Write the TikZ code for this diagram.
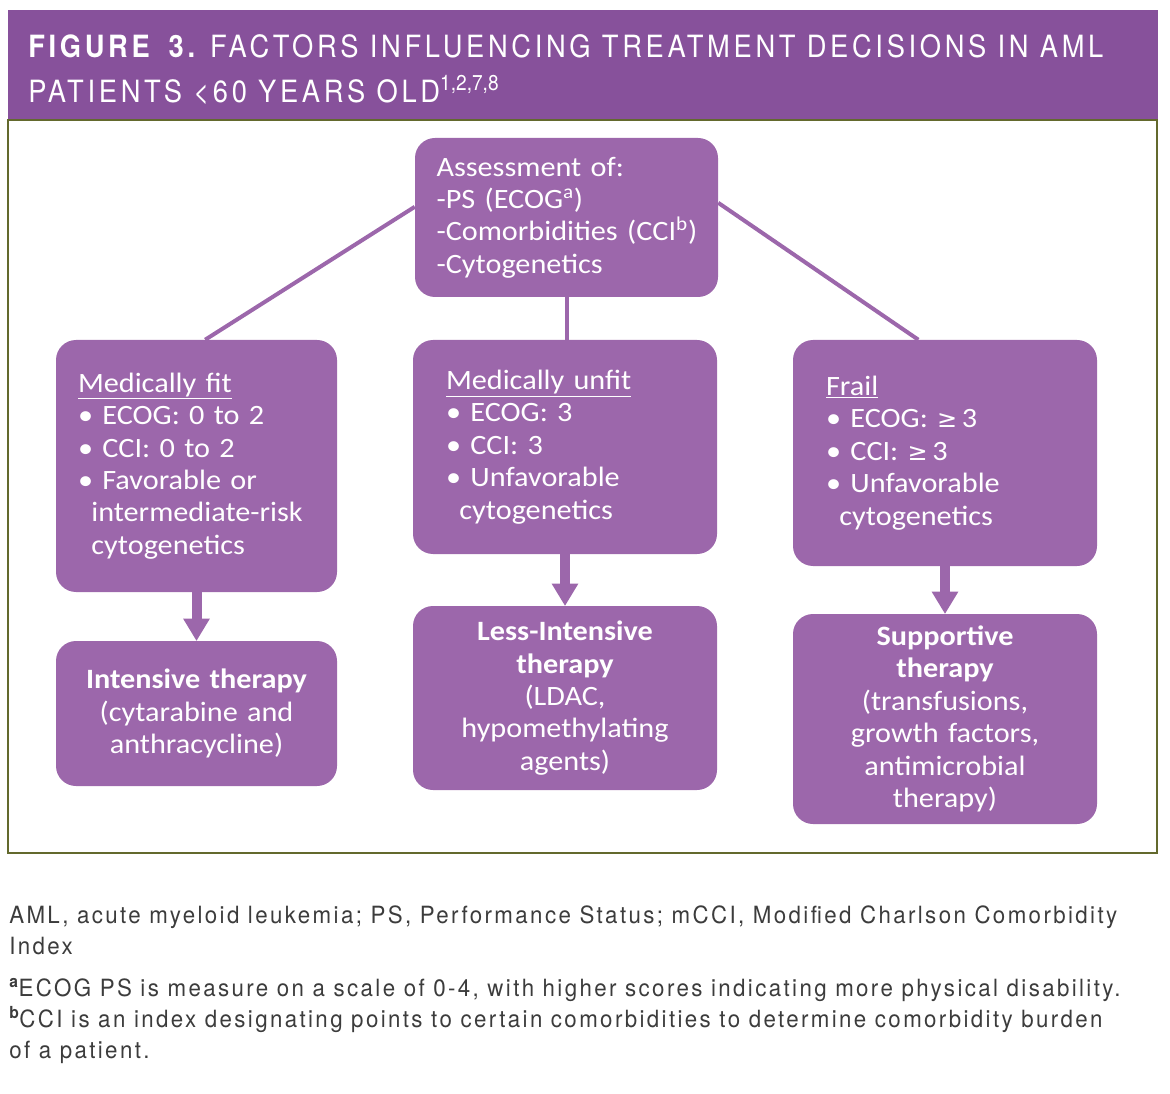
\documentclass[tikz,border=0pt]{standalone}
\usepackage{fontspec}
\usepackage{tikz}
\usetikzlibrary{arrows.meta}
\setmainfont[FakeStretch=1.08]{Carlito}
\newfontfamily\headfont[FakeStretch=0.89,LetterSpace=12]{TeX Gyre Heros}
\newfontfamily\notefont[FakeStretch=0.94,LetterSpace=10]{TeX Gyre Heros}
\newfontfamily\symfont{DejaVu Sans}
\definecolor{barpurple}{RGB}{135,81,155}
\definecolor{boxpurple}{RGB}{156,103,171}
\definecolor{frameolive}{RGB}{99,105,45}
\definecolor{notegray}{RGB}{60,60,60}
\newcommand{\gequal}{{\symfont\fontsize{18}{24}\selectfont ≥}\,}

\begin{document}
\begin{tikzpicture}[x=0.75pt,y=0.75pt,yscale=-1,xscale=1,
    box/.style={fill=boxpurple, rounded corners=15pt, inner sep=0pt, text=white,
      font=\fontsize{21}{24.3}\selectfont},
    link/.style={draw=boxpurple, line width=3pt},
    thickarrow/.style={draw=boxpurple, line width=7.5pt,
      -{Triangle[length=16.5pt,width=20pt,line width=0pt]}},
    titletext/.style={anchor=base west, inner sep=0pt, text=white,
      font=\headfont\fontsize{23}{28}\selectfont},
    notetext/.style={anchor=base west, inner sep=0pt, text=notegray,
      font=\notefont\fontsize{17.8}{23}\selectfont}]
    \useasboundingbox (0,0) rectangle (1170,1094);

    %Title bar
    \fill [barpurple] (8,10) rectangle (1158,120);
    %Frame
    \draw [frameolive, line width=1.1pt] (8,120) rectangle (1157,853);

    % Text Node
    \node [titletext] (title1) at (28,58) {{\bfseries FIGURE\hspace{0.25em} 3.} FACTORS INFLUENCING TREATMENT DECISIONS IN AML};
    % Text Node
    \node [titletext] (title2) at (28,103) {PATIENTS <60 YEARS OLD\textsuperscript{\addfontfeature{LetterSpace=0}1,2,7,8}};

    %Boxes
    \node [box, minimum width=227.25pt, minimum height=119.25pt, text width=195pt, align=left] (assess) at (566.5,217.5)
      {Assessment of:\\-PS (ECOG\textsuperscript{a})\\\mbox{-Comorbidities (CCI\textsuperscript{b})}\\-Cytogenetics};
    \node [box, minimum width=210.75pt, minimum height=189pt, text width=177.75pt, align=left] (fit) at (196.5,466)
      {\underline{Medically fit}\\• ECOG: 0 to 2\\• CCI: 0 to 2\\• Favorable or\\\hspace*{10pt}intermediate-risk\\\hspace*{10pt}cytogenetics};
    \node [box, minimum width=228pt, minimum height=160.5pt, text width=178.5pt, align=left] (unfit) at (565,447)
      {\underline{Medically unfit}\\• ECOG: 3\\• CCI: 3\\• Unfavorable\\\hspace*{10pt}cytogenetics};
    \node [box, minimum width=228pt, minimum height=169.5pt, text width=178.5pt, align=left] (frail) at (945,453)
      {\underline{Frail}\\• ECOG: \gequal3\\• CCI: \gequal3\\• Unfavorable\\\hspace*{10pt}cytogenetics};
    \node [box, minimum width=210.75pt, minimum height=108.75pt, text width=200pt, align=center] (intensive) at (196.5,713.5)
      {\textbf{Intensive therapy}\\(cytarabine and\\anthracycline)};
    \node [box, minimum width=228pt, minimum height=138pt, text width=200pt, align=center] (lessint) at (565,698)
      {\textbf{Less-Intensive}\\\textbf{therapy}\\(LDAC,\\hypomethylating\\agents)};
    \node [box, minimum width=228pt, minimum height=157.5pt, text width=200pt, align=center] (supportive) at (945,719)
      {\textbf{Supportive}\\\textbf{therapy}\\(transfusions,\\growth factors,\\antimicrobial\\therapy)};

    %Straight Lines
    \draw [link] ([yshift=-8pt]assess.west) -- ([xshift=6.5pt]fit.north);
    \draw [link] (assess.south) -- (assess.south |- unfit.north);
    \draw [link] ([yshift=-11pt]assess.east) -- ([xshift=-20pt]frail.north);

    %Arrows
    \draw [thickarrow] (fit.south) -- (intensive.north);
    \draw [thickarrow] (unfit.south) -- (lessint.north);
    \draw [thickarrow] (frail.south) -- (supportive.north);

    % Text Node
    \node [notetext] (note1) at (9,923) {AML, acute myeloid leukemia; PS, Performance Status; mCCI, Modified Charlson Comorbidity};
    % Text Node
    \node [notetext] (note2) at (9,954) {Index};
    % Text Node
    \node [notetext] (note3) at (9,996) {\textsuperscript{\bfseries a}ECOG PS is measure on a scale of 0-4, with higher scores indicating more physical disability.};
    % Text Node
    \node [notetext] (note4) at (9,1027) {\textsuperscript{\bfseries b}CCI is an index designating points to certain comorbidities to determine comorbidity burden};
    % Text Node
    \node [notetext] (note5) at (9,1058) {of a patient.};
\end{tikzpicture}
\end{document}
